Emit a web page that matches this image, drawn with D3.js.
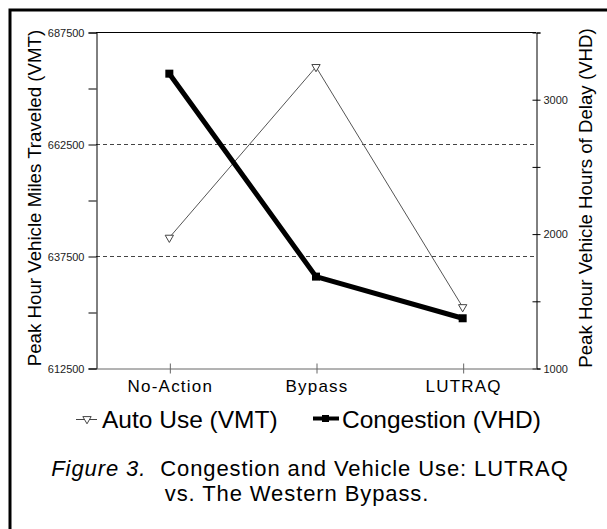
<!DOCTYPE html>
<html>
<head>
<meta charset="utf-8">
<script src="https://cdn.jsdelivr.net/npm/d3@7"></script>
<style>
  body { margin: 0; background: #fff; }
  svg { font-family: "Liberation Sans", Arial, sans-serif; }
</style>
</head>
<body>
<svg id="chart" width="607" height="529"></svg>
<script>
// categories along the x axis
const scenarios = ["No-Action", "Bypass", "LUTRAQ"]

// series values
const autoUseVMT = [641600, 679700, 626100]
const congestionVHD = [3190, 1680, 1370]

// tick values
const vmtTicks = [612500, 625000, 637500, 650000, 662500, 675000, 687500]
const vmtLabels = [612500, 637500, 662500, 687500]
const vhdTicks = [1000, 1500, 2000, 2500, 3000, 3500]
const vhdLabels = [1000, 2000, 3000]

const svg = d3.select("#chart")

// outer frame (runs off the right and bottom edges)
svg.append("rect")
    .attr("x", 10).attr("y", 10)
    .attr("width", 640).attr("height", 560)
    .attr("fill", "none").attr("stroke", "#000").attr("stroke-width", 3)

const m = {left: 96, right: 536, top: 32, bottom: 368}

const x = d3.scalePoint()
    .domain(scenarios)
    .range([m.left, m.right])
    .padding(0.5)

const yL = d3.scaleLinear().domain([612500, 687500]).range([m.bottom, m.top])
const yR = d3.scaleLinear().domain([1000, 3500]).range([m.bottom, m.top])

// dashed gridlines
svg.append("g")
    .selectAll("line")
    .data([637500, 662500])
    .join("line")
    .attr("x1", m.left).attr("x2", m.right)
    .attr("y1", d => Math.round(yL(d)) + 0.5).attr("y2", d => Math.round(yL(d)) + 0.5)
    .attr("stroke", "#444").attr("stroke-dasharray", "4,3")

// top line of the plot box
svg.append("line")
    .attr("x1", m.left).attr("x2", m.right)
    .attr("y1", m.top + 0.5).attr("y2", m.top + 0.5)
    .attr("stroke", "#000")

// left axis
const leftAxis = d3.axisLeft(yL)
    .tickValues(vmtTicks)
    .tickSize(8)
    .tickPadding(4)
    .tickFormat(d => vmtLabels.includes(d) ? d : "")
const gL = svg.append("g")
    .attr("transform", `translate(${m.left + 0.5},0.5)`)
    .call(leftAxis)
gL.select(".domain").attr("stroke", "#000")
gL.selectAll(".tick line").attr("stroke", "#000")
gL.selectAll("text").attr("font-size", 11).attr("fill", "#222")

// right axis, ticks cross the line
const rightAxis = d3.axisRight(yR)
    .tickValues(vhdTicks)
    .tickSize(4)
    .tickPadding(3)
    .tickFormat(d => vhdLabels.includes(d) ? d : "")
const gR = svg.append("g")
    .attr("transform", `translate(${m.right + 0.5},0.5)`)
    .call(rightAxis)
gR.select(".domain").attr("stroke", "#000")
gR.selectAll(".tick line").attr("x1", -4).attr("stroke", "#000")
gR.selectAll("text").attr("font-size", 11).attr("fill", "#222")

// bottom axis
const bottomAxis = d3.axisBottom(x).tickSize(0).tickPadding(0)
const gB = svg.append("g")
    .attr("transform", `translate(0.5,${m.bottom + 0.5})`)
    .call(bottomAxis)
gB.select(".domain").attr("stroke", "#666")
gB.selectAll(".tick line")
    .attr("y1", -5).attr("y2", 5).attr("stroke", "#666")
gB.selectAll("text")
    .attr("dy", null).attr("y", 23)
    .attr("font-size", 17).attr("letter-spacing", 1.2).attr("fill", "#000")

// axis titles
svg.append("text")
    .attr("transform", `translate(41,198) rotate(-90)`)
    .attr("text-anchor", "middle")
    .attr("font-size", 18.7)
    .text("Peak Hour Vehicle Miles Traveled (VMT)")
svg.append("text")
    .attr("transform", `translate(592,198) rotate(-90)`)
    .attr("text-anchor", "middle")
    .attr("font-size", 18.7)
    .text("Peak Hour Vehicle Hours of Delay (VHD)")

// lines
const lineVMT = d3.line()
    .x((d, i) => x(scenarios[i]))
    .y(d => yL(d))
const lineVHD = d3.line()
    .x((d, i) => x(scenarios[i]))
    .y(d => yR(d))

svg.append("path")
    .datum(autoUseVMT)
    .attr("d", lineVMT)
    .attr("fill", "none").attr("stroke", "#555").attr("stroke-width", 1)

const tri = d3.symbol().type(d3.symbolTriangle).size(30)

svg.append("g")
    .selectAll("path")
    .data(autoUseVMT)
    .join("path")
    .attr("d", tri)
    .attr("transform", (d, i) => `translate(${x(scenarios[i])},${yL(d)}) rotate(180)`)
    .attr("fill", "#fff").attr("stroke", "#444")

svg.append("path")
    .datum(congestionVHD)
    .attr("d", lineVHD)
    .attr("fill", "none").attr("stroke", "#000").attr("stroke-width", 5)
    .attr("stroke-linejoin", "miter")

svg.append("g")
    .selectAll("rect")
    .data(congestionVHD)
    .join("rect")
    .attr("x", (d, i) => x(scenarios[i]) - 4)
    .attr("y", d => yR(d) - 4)
    .attr("width", 8).attr("height", 8)
    .attr("fill", "#000")

// legend
const legend = svg.append("g").attr("font-size", 24.5)
legend.append("line")
    .attr("x1", 76).attr("x2", 97).attr("y1", 419.5).attr("y2", 419.5)
    .attr("stroke", "#444")
legend.append("path")
    .attr("d", tri)
    .attr("transform", "translate(87,419) rotate(180)")
    .attr("fill", "#fff").attr("stroke", "#444")
legend.append("text").attr("x", 102).attr("y", 428).text("Auto Use (VMT)")

legend.append("line")
    .attr("x1", 313).attr("x2", 339).attr("y1", 418.5).attr("y2", 418.5)
    .attr("stroke", "#000").attr("stroke-width", 4)
legend.append("rect")
    .attr("x", 322).attr("y", 415).attr("width", 7).attr("height", 7)
    .attr("fill", "#000")
legend.append("text").attr("x", 342).attr("y", 428).text("Congestion (VHD)")

// caption
const cap = svg.append("text")
    .attr("x", 310).attr("y", 476)
    .attr("text-anchor", "middle")
    .attr("font-size", 22)
    .attr("letter-spacing", 0.9)
cap.append("tspan").attr("font-style", "italic").text("Figure 3.")
cap.append("tspan").text("\u00a0 Congestion and Vehicle Use: LUTRAQ")
svg.append("text")
    .attr("x", 297).attr("y", 501)
    .attr("text-anchor", "middle")
    .attr("font-size", 22)
    .attr("letter-spacing", 0.9)
    .text("vs. The Western Bypass.")
</script>
</body>
</html>
